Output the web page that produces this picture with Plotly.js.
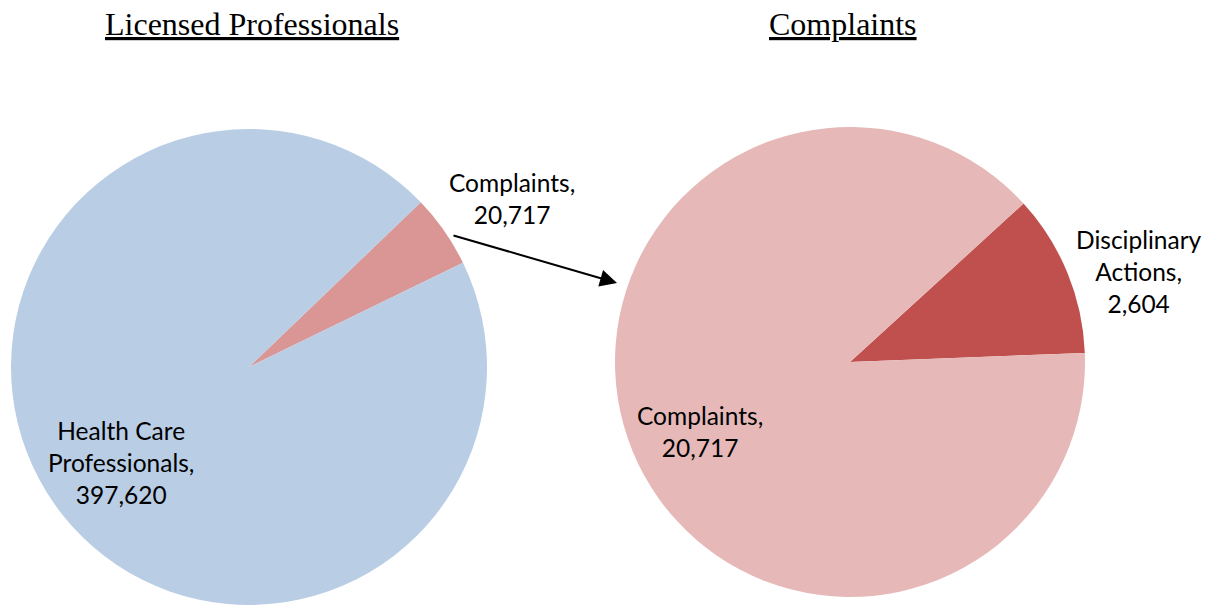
<!DOCTYPE html>
<html>
<head>
<meta charset="utf-8">
<script src="https://cdn.plot.ly/plotly-3.0.1.min.js"></script>
<style>html,body{margin:0;padding:0;background:#fff;} #chart{width:1212px;height:605px;}</style>
</head>
<body>
<div id="chart"></div>
<script>
// ---- data ----
const leftTitle = 'Licensed Professionals';
const rightTitle = 'Complaints';
const leftLabels = ['Complaints', 'Health Care Professionals'];
const leftValues = [20717, 397620];
const rightLabels = ['Disciplinary Actions', 'Complaints'];
const rightValues = [2604, 20717];
// display line breaks for the labels
const leftLabelLines = ['Complaints', 'Health Care<br>Professionals'];
const rightLabelLines = ['Disciplinary<br>Actions', 'Complaints'];

const fmt = v => v.toLocaleString('en-US');
const W = 1212, H = 605;
const px = x => x / W;
const py = y => 1 - y / H;

const traces = [
  {
    type: 'pie', labels: leftLabels, values: leftValues,
    sort: false, direction: 'clockwise', rotation: 46.2,
    textinfo: 'none', hoverinfo: 'label+value',
    marker: {colors: ['#D99694', '#B9CDE5'], line: {width: 0}},
    domain: {x: [px(11), px(487)], y: [0, py(129)]},
    showlegend: false
  },
  {
    type: 'pie', labels: rightLabels, values: rightValues,
    sort: false, direction: 'clockwise', rotation: 47.6,
    textinfo: 'none', hoverinfo: 'label+value',
    marker: {colors: ['#C0504D', '#E6B9B8'], line: {width: 0}},
    domain: {x: [px(615), px(1085)], y: [py(597), py(127)]},
    showlegend: false
  }
];

const labelFont = {family: 'Lato, "Open Sans", sans-serif', size: 24.5, color: '#000'};
const titleFont = {family: '"Liberation Serif", "Times New Roman", serif', size: 32, color: '#000'};
const lbl = (lines, v) => lines + ',<br>' + fmt(v);

const annotations = [
  {text: '<span style="text-decoration:underline">' + leftTitle + '</span>', x: px(252), y: py(24), xref: 'paper', yref: 'paper', showarrow: false, font: titleFont, xanchor: 'center', yanchor: 'middle'},
  {text: '<span style="text-decoration:underline">' + rightTitle + '</span>', x: px(843), y: py(24), xref: 'paper', yref: 'paper', showarrow: false, font: titleFont, xanchor: 'center', yanchor: 'middle'},
  {text: lbl(leftLabelLines[0], leftValues[0]), x: px(512), y: py(198), xref: 'paper', yref: 'paper', showarrow: false, font: labelFont, xanchor: 'center', yanchor: 'middle'},
  {text: lbl(leftLabelLines[1], leftValues[1]), x: px(121), y: py(462), xref: 'paper', yref: 'paper', showarrow: false, font: labelFont, xanchor: 'center', yanchor: 'middle'},
  {text: lbl(rightLabelLines[0], rightValues[0]), x: px(1139), y: py(271), xref: 'paper', yref: 'paper', showarrow: false, font: labelFont, xanchor: 'center', yanchor: 'middle'},
  {text: lbl(rightLabelLines[1], rightValues[1]), x: px(700), y: py(431), xref: 'paper', yref: 'paper', showarrow: false, font: labelFont, xanchor: 'center', yanchor: 'middle'},
  {text: '', x: px(617), y: py(283), xref: 'paper', yref: 'paper', showarrow: true, ax: 452 - 617, ay: 235 - 283, axref: 'pixel', ayref: 'pixel', arrowhead: 2, arrowsize: 1.7, arrowwidth: 2, arrowcolor: '#000', standoff: 0}
];

const layout = {
  width: W, height: H,
  margin: {l: 0, r: 0, t: 0, b: 0},
  paper_bgcolor: '#fff', plot_bgcolor: '#fff',
  showlegend: false,
  annotations: annotations
};

Plotly.newPlot('chart', traces, layout, {displayModeBar: false, staticPlot: true});
</script>
</body>
</html>
